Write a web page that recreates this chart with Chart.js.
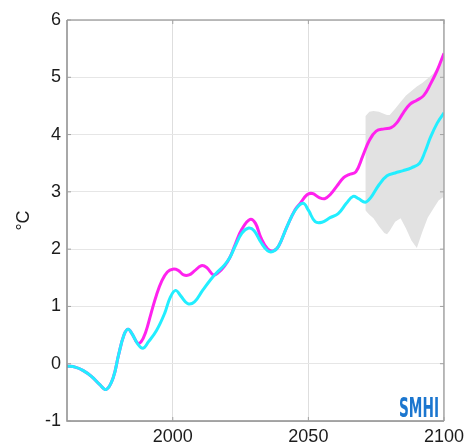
<!DOCTYPE html>
<html>
<head>
<meta charset="utf-8">
<script src="https://cdn.jsdelivr.net/npm/chart.js@4.4.1/dist/chart.umd.min.js"></script>
<style>
  html, body { margin: 0; padding: 0; background: #fff; }
  #chart { display: block; }
</style>
</head>
<body>
<canvas id="chart" width="469" height="446"></canvas>
<script>
// x tick labels and y range
var xTicks = [2000, 2050, 2100];
var yTicks = [-1, 0, 1, 2, 3, 4, 5, 6];

// cyan series
var cyanYears = [1961, 1964, 1967, 1970, 1973, 1975.5, 1978, 1980, 1982, 1983.5, 1985, 1987, 1989, 1991, 1994, 1997, 1999, 2001, 2003, 2005.5, 2008, 2011, 2014, 2016, 2019, 2021, 2023, 2025.5, 2028, 2030, 2032.5, 2035, 2037, 2039, 2042, 2045, 2048, 2050, 2052.5, 2055, 2058, 2061, 2064, 2066.5, 2068.5, 2071, 2073, 2076, 2079, 2082, 2085, 2088, 2091, 2093, 2095, 2097.5, 2100];
var cyanVals = [-0.04, -0.06, -0.12, -0.22, -0.36, -0.45, -0.25, 0.15, 0.50, 0.60, 0.52, 0.35, 0.27, 0.38, 0.58, 0.88, 1.15, 1.28, 1.18, 1.05, 1.08, 1.28, 1.47, 1.58, 1.72, 1.85, 2.05, 2.28, 2.37, 2.32, 2.12, 1.97, 1.96, 2.05, 2.38, 2.67, 2.80, 2.68, 2.48, 2.47, 2.55, 2.62, 2.80, 2.92, 2.88, 2.82, 2.90, 3.12, 3.28, 3.33, 3.37, 3.42, 3.50, 3.70, 3.95, 4.20, 4.38];

// magenta series
var magentaYears = [1961, 1964, 1967, 1970, 1973, 1975.5, 1978, 1980, 1982, 1983.5, 1985, 1987, 1988.3, 1990, 1992, 1994, 1996, 1998, 2000, 2002, 2004, 2006, 2008, 2010.5, 2012.5, 2015, 2017, 2019, 2021, 2023, 2025.5, 2028.5, 2030.5, 2032.5, 2035, 2037, 2039, 2042, 2045, 2047, 2049.5, 2051.5, 2054, 2056, 2058, 2060.5, 2063, 2065, 2067.5, 2070, 2072.5, 2075, 2078, 2080.5, 2082.5, 2085, 2087.5, 2090, 2092.5, 2095, 2097.5, 2100];
var magentaVals = [-0.04, -0.06, -0.12, -0.22, -0.36, -0.45, -0.25, 0.15, 0.50, 0.60, 0.52, 0.36, 0.38, 0.55, 0.88, 1.20, 1.45, 1.60, 1.65, 1.63, 1.55, 1.55, 1.62, 1.71, 1.68, 1.55, 1.60, 1.70, 1.85, 2.08, 2.35, 2.52, 2.45, 2.20, 2.00, 1.97, 2.05, 2.38, 2.68, 2.80, 2.95, 2.97, 2.90, 2.88, 2.95, 3.10, 3.25, 3.30, 3.35, 3.62, 3.90, 4.06, 4.10, 4.12, 4.20, 4.38, 4.53, 4.60, 4.68, 4.88, 5.12, 5.42];

// grey spread band
var bandYears = [2071, 2072.5, 2074, 2076, 2078, 2079, 2080, 2082, 2084, 2086, 2088, 2090, 2092, 2094, 2096, 2098, 2100];
var bandUpper = [4.32, 4.40, 4.41, 4.40, 4.36, 4.34, 4.34, 4.45, 4.57, 4.68, 4.76, 4.84, 4.90, 4.98, 5.06, 5.21, 5.40];
var bandLower = [2.68, 2.60, 2.54, 2.40, 2.28, 2.26, 2.32, 2.48, 2.54, 2.36, 2.15, 2.02, 2.30, 2.55, 2.70, 2.85, 2.92];

var labelFont = '"Liberation Sans", Arial, sans-serif'

function toPoints(xs, ys) {
    return xs.map((x, i) => ({ x: x, y: ys[i] }))
}

// frame, inner ticks and the logo
var framePlugin = {
    id: 'frame',
    afterDraw(chart) {
        var ctx = chart.ctx
        var a = chart.chartArea
        var xs = chart.scales.x, ys = chart.scales.y
        ctx.save()
        ctx.strokeStyle = '#a8a8a8'
        ctx.lineWidth = 1.5
        ctx.beginPath()
        ctx.moveTo(a.left, a.top); ctx.lineTo(a.right, a.top); ctx.lineTo(a.right, a.bottom)
        ctx.stroke()
        ctx.strokeStyle = '#8c8c8c'
        ctx.beginPath()
        ctx.moveTo(a.left, a.top); ctx.lineTo(a.left, a.bottom); ctx.lineTo(a.right, a.bottom)
        ctx.stroke()
        ctx.lineWidth = 1
        ctx.strokeStyle = '#a0a0a0'
        yTicks.forEach(v => {
            var py = ys.getPixelForValue(v)
            ctx.beginPath(); ctx.moveTo(a.right - 4, py); ctx.lineTo(a.right, py); ctx.stroke()
            ctx.beginPath(); ctx.moveTo(a.left, py); ctx.lineTo(a.left + 4, py); ctx.stroke()
        })
        xTicks.forEach(v => {
            var px = xs.getPixelForValue(v)
            ctx.beginPath(); ctx.moveTo(px, a.top); ctx.lineTo(px, a.top + 4); ctx.stroke()
            ctx.beginPath(); ctx.moveTo(px, a.bottom - 4); ctx.lineTo(px, a.bottom); ctx.stroke()
        })
        // SMHI logo text
        ctx.fillStyle = '#1b76cf'
        ctx.font = 'bold 27px "Liberation Sans Narrow", "DejaVu Sans Condensed", sans-serif'
        ctx.textBaseline = 'alphabetic'
        var w = ctx.measureText('SMHI').width
        ctx.translate(a.right - 45, a.bottom - 4)
        ctx.scale(40 / w, 1)
        ctx.fillText('SMHI', 0, 0)
        ctx.restore()
    }
}

new Chart(document.getElementById('chart'), {
    type: 'line',
    data: {
        datasets: [{
            label: 'cyan',
            data: toPoints(cyanYears, cyanVals),
            borderColor: '#22eeff',
            borderWidth: 3,
            pointRadius: 0,
            tension: 0.4,
            fill: false,
            order: 0
        }, {
            label: 'magenta',
            data: toPoints(magentaYears, magentaVals),
            borderColor: '#ff22ee',
            borderWidth: 3,
            pointRadius: 0,
            tension: 0.4,
            fill: false,
            order: 1
        }, {
            label: 'upper',
            data: toPoints(bandYears, bandUpper),
            borderWidth: 0,
            borderColor: 'rgba(0,0,0,0)',
            backgroundColor: '#e2e2e2',
            pointRadius: 0,
            tension: 0,
            fill: '+1',
            order: 2
        }, {
            label: 'lower',
            data: toPoints(bandYears, bandLower),
            borderWidth: 0,
            borderColor: 'rgba(0,0,0,0)',
            pointRadius: 0,
            tension: 0,
            fill: false,
            order: 3
        }]
    },
    options: {
        responsive: false,
        animation: false,
        events: [],
        layout: {
            padding: { top: 20, right: 21, left: 0, bottom: 0 }
        },
        plugins: {
            legend: { display: false },
            tooltip: { enabled: false }
        },
        scales: {
            x: {
                type: 'linear',
                min: 1961,
                max: 2100,
                afterBuildTicks: (axis) => {
                    axis.ticks = xTicks.map(v => ({ value: v }))
                },
                afterFit: (axis) => { axis.height = 25 },
                grid: {
                    color: '#dedede',
                    lineWidth: 1,
                    drawTicks: false
                },
                border: { display: false },
                ticks: {
                    padding: 5,
                    color: '#1c1c1c',
                    maxRotation: 0,
                    font: { family: labelFont, size: 18 },
                    callback: (v) => String(v)
                }
            },
            y: {
                min: -1,
                max: 6,
                afterBuildTicks: (axis) => {
                    axis.ticks = yTicks.map(v => ({ value: v }))
                },
                afterFit: (axis) => { axis.width = 67 },
                grid: {
                    color: '#e6e6e6',
                    lineWidth: 1,
                    drawTicks: false
                },
                border: { display: false },
                title: {
                    display: true,
                    text: '°C',
                    color: '#1c1c1c',
                    padding: { top: 13, bottom: 0 },
                    font: { family: labelFont, size: 18 }
                },
                ticks: {
                    padding: 6,
                    color: '#1c1c1c',
                    font: { family: labelFont, size: 18 },
                    callback: (v) => String(v)
                }
            }
        }
    },
    plugins: [framePlugin]
});
</script>
</body>
</html>
